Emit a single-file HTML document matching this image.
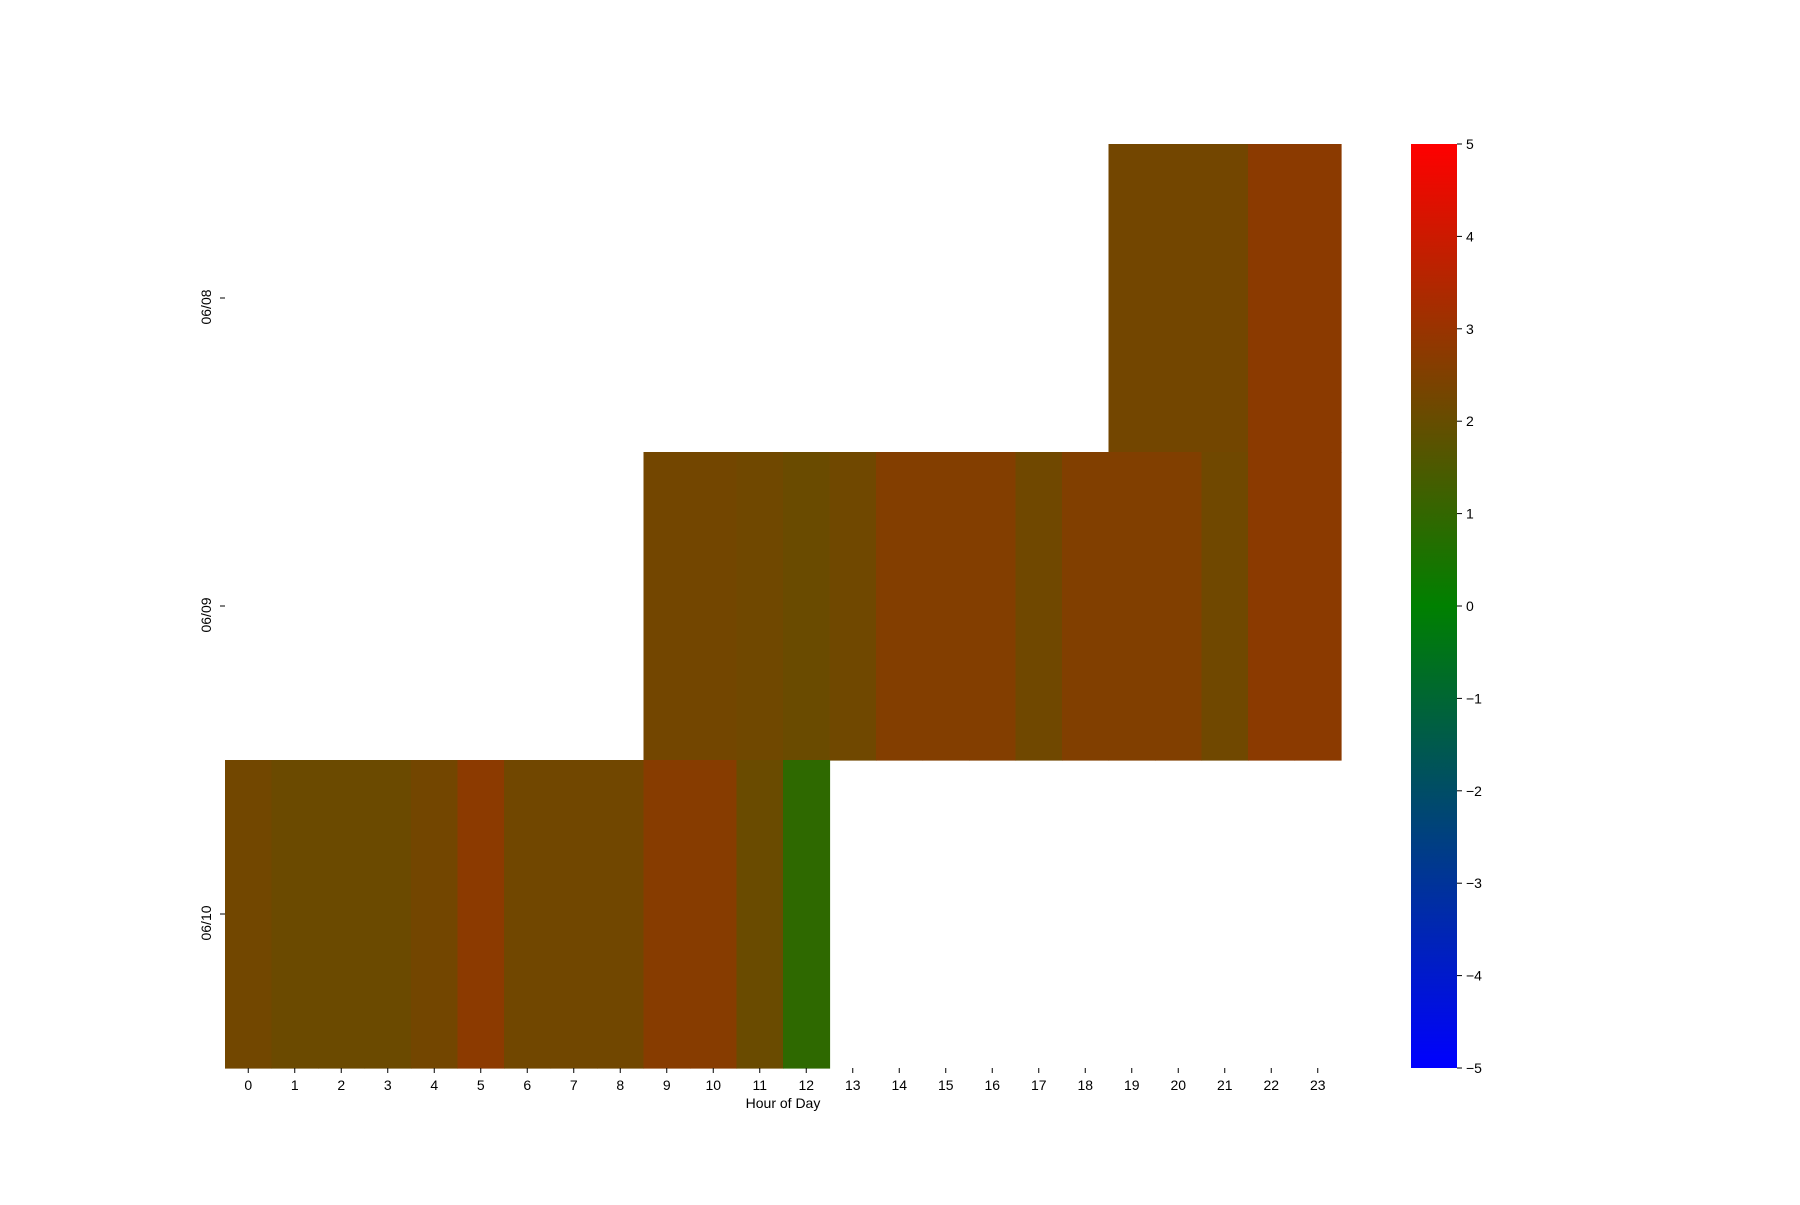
<!DOCTYPE html>
<html><head><meta charset="utf-8"><style>
body{margin:0;background:#fff;}
svg text{font-family:"Liberation Sans","DejaVu Sans",sans-serif;font-size:14px;fill:#000;}
</style></head><body>
<svg id="chart" width="1800" height="1200" xmlns="http://www.w3.org/2000/svg">
<defs><linearGradient id="cb" x1="0" y1="1" x2="0" y2="0">
<stop offset="0" stop-color="#0000ff"/><stop offset="0.5" stop-color="#008000"/><stop offset="1" stop-color="#ff0000"/>
</linearGradient></defs>
<g id="cells"></g>
<g id="axes"></g>
<rect x="1411" y="144" width="46" height="924" fill="url(#cb)"/>
<g id="cbticks"></g>
<text x="783" y="1108" text-anchor="middle">Hour of Day</text>
</svg>
<script>
const dates = ["06/08","06/09","06/10"];
const hours = [0,1,2,3,4,5,6,7,8,9,10,11,12,13,14,15,16,17,18,19,20,21,22,23];
const row0608 = [null,null,null,null,null,null,null,null,null,null,null,null,null,null,null,null,null,null,null,2.25,2.25,2.25,2.73,2.73];
const row0609 = [null,null,null,null,null,null,null,null,null,2.25,2.25,2.2,2.08,2.2,2.57,2.57,2.57,2.2,2.53,2.53,2.53,2.2,2.73,2.73];
const row0610 = [2.24,2.1,2.1,2.1,2.25,2.75,2.22,2.22,2.22,2.65,2.65,2.08,0.9,null,null,null,null,null,null,null,null,null,null,null];
const cbTicks = [5,4,3,2,1,0,-1,-2,-3,-4,-5];
const vmin=-5, vmax=5;
const L=225,R=1341,T=144,B=1068;
const cw=(R-L)/hours.length, rh=(B-T)/dates.length;
const xs=i=>L+i*cw, ys=j=>T+j*rh;
function color(v){
  let t=(v-vmin)/(vmax-vmin),r,g,b;
  if(t<0.5){const u=t/0.5;r=0;g=128*u;b=255*(1-u);}else{const u=(t-0.5)/0.5;r=255*u;g=128*(1-u);b=0;}
  return `rgb(${Math.round(r)},${Math.round(g)},${Math.round(b)})`;
}
const NS="http://www.w3.org/2000/svg";
const cells=document.getElementById('cells'),axes=document.getElementById('axes'),cbt=document.getElementById('cbticks');
[row0608,row0609,row0610].forEach((row,j)=>{
  row.forEach((v,i)=>{
    if(v===null)return;
    const r=document.createElementNS(NS,'rect');
    
    
    r.setAttribute('x',xs(i));r.setAttribute('y',ys(j));
    r.setAttribute('width',cw+0.6);r.setAttribute('height',rh+0.6);
    r.setAttribute('fill',color(v));
    cells.appendChild(r);
  });
});
hours.forEach((h,i)=>{
  const x=xs(i)+cw/2;
  const l=document.createElementNS(NS,'line');
  
  
  l.setAttribute('x1',x);l.setAttribute('x2',x);l.setAttribute('y1',B);l.setAttribute('y2',B+5);l.setAttribute('stroke','#000');
  axes.appendChild(l);
  const t=document.createElementNS(NS,'text');
  
  
  t.setAttribute('x',x);t.setAttribute('y',B+22);t.setAttribute('text-anchor','middle');t.textContent=h;
  axes.appendChild(t);
});
dates.forEach((d,j)=>{
  const y=ys(j)+rh/2;
  const l=document.createElementNS(NS,'line');
  
  
  l.setAttribute('x1',L-5);l.setAttribute('x2',L);l.setAttribute('y1',y);l.setAttribute('y2',y);l.setAttribute('stroke','#000');
  axes.appendChild(l);
  const t=document.createElementNS(NS,'text');
  
  
  t.setAttribute('transform',`translate(${L-14},${y+9}) rotate(-90)`);t.setAttribute('text-anchor','middle');t.textContent=d;
  axes.appendChild(t);
});
cbTicks.forEach(v=>{
  const y=B-(v-vmin)/(vmax-vmin)*(B-T);
  const l=document.createElementNS(NS,'line');
  
  
  l.setAttribute('x1',1457);l.setAttribute('x2',1462);l.setAttribute('y1',y);l.setAttribute('y2',y);l.setAttribute('stroke','#000');
  cbt.appendChild(l);
  const t=document.createElementNS(NS,'text');
  
  
  t.setAttribute('x',1466);t.setAttribute('y',y+5);t.textContent=v<0?'\u2212'+(-v):v;
  cbt.appendChild(t);
});
</script>
</body></html>
